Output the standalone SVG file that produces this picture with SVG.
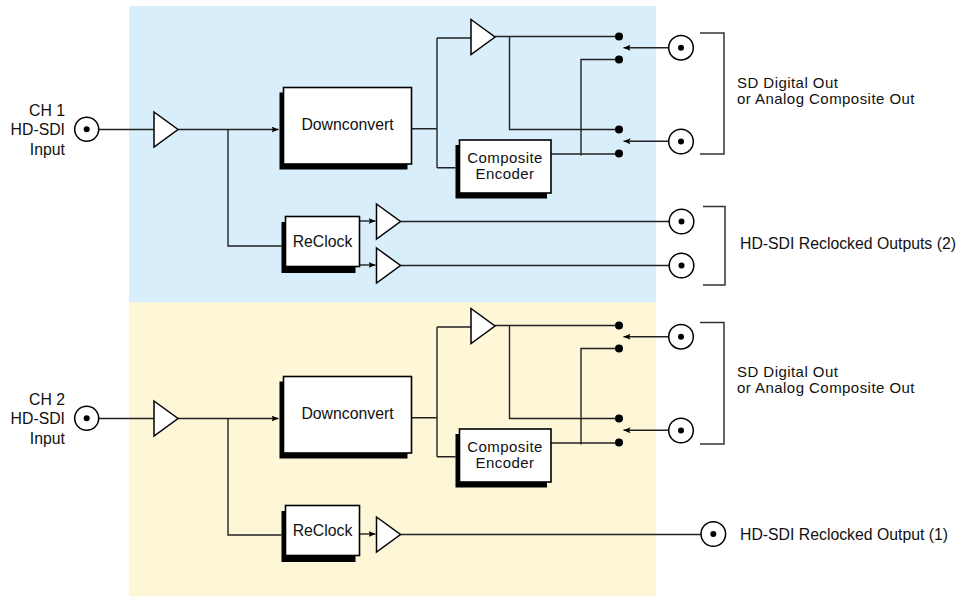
<svg xmlns="http://www.w3.org/2000/svg" width="965" height="597" viewBox="0 0 965 597">
<style>
  text { font-family: "Liberation Sans", Arial, Helvetica, sans-serif; font-size: 15.8px; fill: #111; }
  .c { text-anchor: middle; }
  .e { text-anchor: end; }
  .m { font-size: 15px; letter-spacing: 0.45px; }
  .box { fill: #fff; stroke: #000; stroke-width: 1.6; }
  .shadow { fill: #000; }
  .amp { fill: #fff; stroke: #000; stroke-width: 1.5; stroke-linejoin: miter; }
  .bnc { fill: #fff; stroke: #000; stroke-width: 1.5; }
  .pin { fill: #000; }
  .dot { fill: #000; }
  .w { fill: none; stroke: #222; stroke-width: 1.4; }
  .br { fill: none; stroke: #333; stroke-width: 1.5; }
</style>
<defs>
  <marker id="ah" markerUnits="userSpaceOnUse" markerWidth="8" markerHeight="6" refX="7" refY="3" orient="auto">
    <path d="M0,0 L7,3 L0,6 L1.5,3 z" fill="#000"/>
  </marker>
</defs>

<rect id="bg-ch1" x="129" y="6" width="527" height="296.5" fill="#d9eefb"/>
<rect id="bg-ch2" x="129" y="302.5" width="527" height="294" fill="#fdf7d7"/>

<g id="connectors">
  <!-- CH1 -->
  <path class="w" d="M99,129.5 H154"/>
  <path class="w" d="M178,129.5 H278.5" marker-end="url(#ah)"/>
  <path class="w" d="M228,129.5 V246 H281.5"/>
  <path class="w" d="M359.5,221 H375.5" marker-end="url(#ah)"/>
  <path class="w" d="M359.5,265 H375.5" marker-end="url(#ah)"/>
  <path class="w" d="M400.5,221.5 H669"/>
  <path class="w" d="M400.5,265.5 H669"/>
  <path class="w" d="M411.5,128.7 H437 M437,38 V167.7 M437,38 H471 M437,167.7 H455.5"/>
  <path class="w" d="M495,36.5 H619"/>
  <path class="w" d="M509.5,36.5 V129.5 H619"/>
  <path class="w" d="M551,154 H619"/>
  <path class="w" d="M581,155.5 V59.5 H619"/>
  <path class="w" d="M668.5,47.7 H623.5" marker-end="url(#ah)"/>
  <path class="w" d="M668.5,141.3 H623.5" marker-end="url(#ah)"/>
  <!-- CH2 -->
  <path class="w" d="M99,418.5 H154"/>
  <path class="w" d="M178,418.5 H278.5" marker-end="url(#ah)"/>
  <path class="w" d="M228,418.5 V535 H281.5"/>
  <path class="w" d="M359.5,534 H375.5" marker-end="url(#ah)"/>
  <path class="w" d="M400.5,534.5 H701"/>
  <path class="w" d="M411.5,417.7 H437 M437,327 V456.7 M437,327 H471 M437,456.7 H455.5"/>
  <path class="w" d="M495,325.5 H619"/>
  <path class="w" d="M509.5,325.5 V418.5 H619"/>
  <path class="w" d="M551,443 H619"/>
  <path class="w" d="M581,444.5 V348.5 H619"/>
  <path class="w" d="M668.5,336.7 H623.5" marker-end="url(#ah)"/>
  <path class="w" d="M668.5,430.3 H623.5" marker-end="url(#ah)"/>
</g>

<!-- ===== CH1 ===== -->
<g id="ch1-input">
  <text class="e" x="65" y="116">CH 1</text>
  <text class="e" x="65" y="135">HD-SDI</text>
  <text class="e" x="65" y="155">Input</text>
  <circle class="bnc" cx="86.7" cy="129.3" r="12"/>
  <circle class="pin" cx="86.7" cy="129.3" r="3"/>
</g>
<g id="ch1-input-amp"><polygon class="amp" points="154,112 178,129.5 154,147"/></g>
<g id="ch1-downconvert">
  <rect class="shadow" x="279.5" y="92.5" width="128" height="77"/>
  <rect class="box" x="283.5" y="87.5" width="128" height="76.5"/>
  <text class="c" x="347.5" y="130">Downconvert</text>
</g>
<g id="ch1-reclock">
  <rect class="shadow" x="281.5" y="222" width="74" height="51"/>
  <rect class="box" x="285.5" y="216.5" width="74" height="50"/>
  <text class="c" x="322.5" y="247">ReClock</text>
</g>
<g id="ch1-sd-amp"><polygon class="amp" points="471,19.5 495,37 471,54.5"/></g>
<g id="ch1-encoder">
  <rect class="shadow" x="455.5" y="145" width="91.5" height="53.5"/>
  <rect class="box" x="459.5" y="140" width="91.5" height="53"/>
  <text class="c m" x="505" y="163">Composite</text>
  <text class="c m" x="505" y="178.5">Encoder</text>
</g>
<g id="ch1-reclock-amp1"><polygon class="amp" points="376.5,204 400.5,221.5 376.5,239"/></g>
<g id="ch1-reclock-amp2"><polygon class="amp" points="376.5,248 400.5,265.5 376.5,283"/></g>
<g id="ch1-switch1">
  <circle class="dot" cx="619" cy="36.5" r="4"/>
  <circle class="dot" cx="619" cy="59.5" r="4"/>
</g>
<g id="ch1-switch2">
  <circle class="dot" cx="619" cy="129.5" r="4"/>
  <circle class="dot" cx="619" cy="153.5" r="4"/>
</g>
<g id="ch1-sd-out1">
  <circle class="bnc" cx="681" cy="47.7" r="12.3"/>
  <circle class="pin" cx="681" cy="47.7" r="3"/>
</g>
<g id="ch1-sd-out2">
  <circle class="bnc" cx="681" cy="141.5" r="12.3"/>
  <circle class="pin" cx="681" cy="141.5" r="3"/>
</g>
<g id="ch1-sd-label">
  <path class="br" d="M700,33 H724 V154 H700"/>
  <text class="m" x="737" y="88">SD Digital Out</text>
  <text class="m" x="737" y="103.5">or Analog Composite Out</text>
</g>
<g id="ch1-hd-out1">
  <circle class="bnc" cx="681.5" cy="221.5" r="12.3"/>
  <circle class="pin" cx="681.5" cy="221.5" r="3"/>
</g>
<g id="ch1-hd-out2">
  <circle class="bnc" cx="681.5" cy="265.5" r="12.3"/>
  <circle class="pin" cx="681.5" cy="265.5" r="3"/>
</g>
<g id="ch1-hd-label">
  <path class="br" d="M703,206.5 H725 V285 H703"/>
  <text x="740" y="249">HD-SDI Reclocked Outputs (2)</text>
</g>

<!-- ===== CH2 ===== -->
<g id="ch2-input">
  <text class="e" x="65" y="405">CH 2</text>
  <text class="e" x="65" y="424">HD-SDI</text>
  <text class="e" x="65" y="444">Input</text>
  <circle class="bnc" cx="86.7" cy="418.3" r="12"/>
  <circle class="pin" cx="86.7" cy="418.3" r="3"/>
</g>
<g id="ch2-input-amp"><polygon class="amp" points="154,401 178,418.5 154,436"/></g>
<g id="ch2-downconvert">
  <rect class="shadow" x="279.5" y="381.5" width="128" height="77"/>
  <rect class="box" x="283.5" y="376.5" width="128" height="76.5"/>
  <text class="c" x="347.5" y="419">Downconvert</text>
</g>
<g id="ch2-reclock">
  <rect class="shadow" x="281.5" y="511" width="74" height="51"/>
  <rect class="box" x="285.5" y="505.5" width="74" height="50"/>
  <text class="c" x="322.5" y="536">ReClock</text>
</g>
<g id="ch2-sd-amp"><polygon class="amp" points="471,308.5 495,326 471,343.5"/></g>
<g id="ch2-encoder">
  <rect class="shadow" x="455.5" y="434" width="91.5" height="53.5"/>
  <rect class="box" x="459.5" y="429" width="91.5" height="53"/>
  <text class="c m" x="505" y="452">Composite</text>
  <text class="c m" x="505" y="467.5">Encoder</text>
</g>
<g id="ch2-reclock-amp"><polygon class="amp" points="376.5,517 400.5,534.5 376.5,552"/></g>
<g id="ch2-switch1">
  <circle class="dot" cx="619" cy="325.5" r="4"/>
  <circle class="dot" cx="619" cy="348.5" r="4"/>
</g>
<g id="ch2-switch2">
  <circle class="dot" cx="619" cy="418.5" r="4"/>
  <circle class="dot" cx="619" cy="442.5" r="4"/>
</g>
<g id="ch2-sd-out1">
  <circle class="bnc" cx="681" cy="336.7" r="12.3"/>
  <circle class="pin" cx="681" cy="336.7" r="3"/>
</g>
<g id="ch2-sd-out2">
  <circle class="bnc" cx="681" cy="430.5" r="12.3"/>
  <circle class="pin" cx="681" cy="430.5" r="3"/>
</g>
<g id="ch2-sd-label">
  <path class="br" d="M700,322.5 H724 V444 H700"/>
  <text class="m" x="737" y="377">SD Digital Out</text>
  <text class="m" x="737" y="392.5">or Analog Composite Out</text>
</g>
<g id="ch2-hd-out">
  <circle class="bnc" cx="713.3" cy="534" r="12.3"/>
  <circle class="pin" cx="713.3" cy="534" r="3"/>
</g>
<g id="ch2-hd-label">
  <text x="740" y="540">HD-SDI Reclocked Output (1)</text>
</g>
</svg>
